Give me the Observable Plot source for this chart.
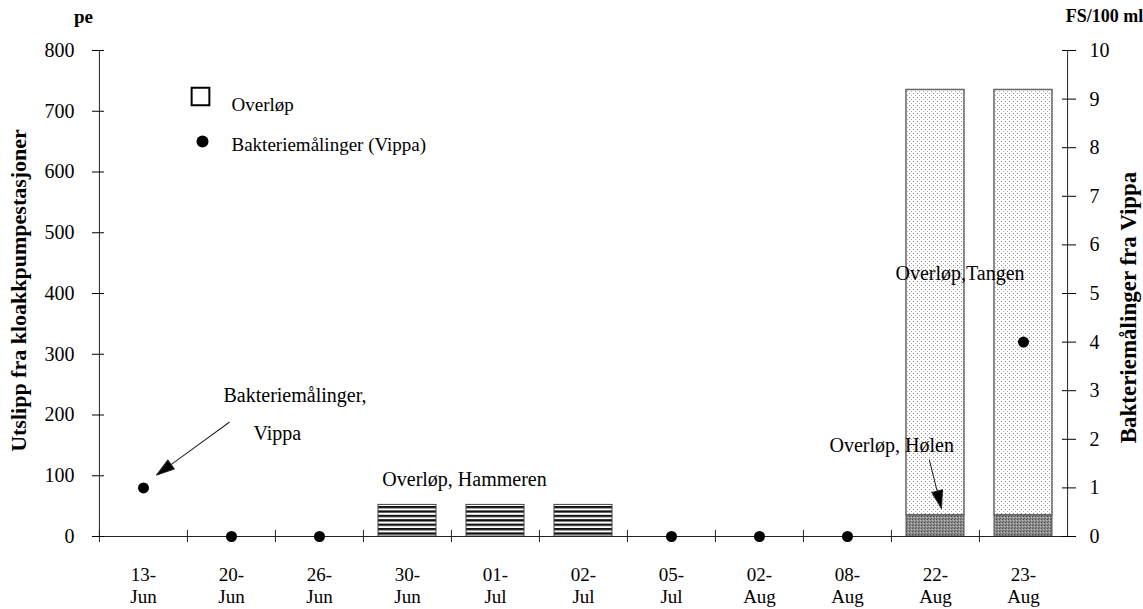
<!DOCTYPE html>
<html><head><meta charset="utf-8">
<script src="https://cdn.jsdelivr.net/npm/d3@7"></script>
<script src="https://cdn.jsdelivr.net/npm/@observablehq/plot@0.6"></script>
<style>body{margin:0;background:#fff}</style>
</head><body><div id="chart"></div>
<script>
// ---- data ----
const categories = ["13-\nJun","20-\nJun","26-\nJun","30-\nJun","01-\nJul","02-\nJul","05-\nJul","02-\nAug","08-\nAug","22-\nAug","23-\nAug"];
const hammeren = [0,0,0,52,52,52,0,0,0,0,0];        // pe
const holen    = [0,0,0,0,0,0,0,0,0,35,35];         // pe
const tangen   = [0,0,0,0,0,0,0,0,0,700,700];       // pe (on top of Hølen)
const bacteria = [1,0,0,null,null,null,0,0,0,null,4]; // FS/100 ml
const leftTicks = [0,100,200,300,400,500,600,700,800];
const rightTicks = [0,1,2,3,4,5,6,7,8,9,10];
const fsToPe = 80; // 10 FS/100 ml <-> 800 pe

const W = 1143, H = 609, mL = 98, mR = 75, mT = 50, mB = 73;
const bw = (W - mL - mR) / categories.length;

const hamRows = categories.map((c,i)=>({cat:c, v:hammeren[i]})).filter(d=>d.v>0);
const augRows = categories.map((c,i)=>({cat:c, holen:holen[i], tangen:tangen[i]})).filter(d=>d.holen+d.tangen>0);
const bacRows = categories.map((c,i)=>({cat:c, fs:bacteria[i]})).filter(d=>d.fs!=null);

const arrowShape = {draw(ctx, l) {
  const h = 18, w = 5.5;
  ctx.moveTo(0, 0); ctx.lineTo(0, -l + h);
  ctx.moveTo(-w, h - l); ctx.lineTo(0, -l); ctx.lineTo(w, h - l); ctx.closePath();
}};

const serif = '"Liberation Serif", "Times New Roman", serif';

const plot = Plot.plot({
  width: W, height: H,
  marginLeft: mL, marginRight: mR, marginTop: mT, marginBottom: mB,
  style: {fontFamily: serif, fontSize: "19px", color: "black", background: "white", overflow: "visible"},
  x: {domain: categories, padding: 0, axis: null},
  y: {domain: [0, 800], axis: null},
  marks: [
    Plot.barY(hamRows, {x: "cat", y: "v", insetLeft: 15, insetRight: 15, fill: "url(#hStripes)", stroke: "#444", strokeWidth: 1}),
    Plot.barY(augRows, {x: "cat", y1: 0, y2: "holen", insetLeft: 15, insetRight: 15, fill: "url(#dotsDark)", stroke: "#555", strokeWidth: 1}),
    Plot.barY(augRows, {x: "cat", y1: "holen", y2: d => d.holen + d.tangen, insetLeft: 15, insetRight: 15, fill: "url(#dotsLight)", stroke: "#666", strokeWidth: 1.5}),
    // axis lines
    Plot.ruleY([0], {stroke: "#222"}),
    Plot.ruleX([categories[0]], {y1: 0, y2: 800, dx: -bw / 2, stroke: "#222"}),
    Plot.ruleX([categories[categories.length - 1]], {y1: 0, y2: 800, dx: bw / 2, stroke: "#222"}),
    // category boundary ticks
    Plot.ruleX(categories, {x: d => d, y1: -10, y2: 10, dx: -bw / 2, stroke: "#222"}),
    Plot.axisX({tickSize: 0, tickPadding: 28, lineHeight: 1.2, label: null, fontSize: 19}),
    Plot.axisY(leftTicks, {anchor: "left", tickSize: 12, dx: 6, tickPadding: 18, label: null, fontSize: 20}),
    Plot.axisY(rightTicks.map(v => v * fsToPe), {anchor: "right", tickSize: 14, dx: -7, tickPadding: 14, tickFormat: d => d / fsToPe, label: null, fontSize: 20}),
    // bacteria measurements
    Plot.dot(bacRows, {x: "cat", y: d => d.fs * fsToPe, r: 5.5, fill: "black"}),
    // annotations
    Plot.text(["Overløp, Hammeren"], {x: () => categories[4], y: () => 94, dx: -31, text: d => d, fontSize: 20}),
    Plot.text(["Bakteriemålinger,"], {x: () => categories[1], y: () => 232, dx: -8, text: d => d, textAnchor: "start", fontSize: 20}),
    Plot.text(["Vippa"], {x: () => categories[1], y: () => 169, dx: 22, text: d => d, textAnchor: "start", fontSize: 20}),
    Plot.text(["Overløp,Tangen"], {x: () => categories[9], y: () => 433, dx: -40, text: d => d, textAnchor: "start", fontSize: 20}),
    Plot.text(["Overløp, Hølen"], {x: () => categories[9], y: () => 150, dx: -106, text: d => d, textAnchor: "start", fontSize: 20}),
    Plot.vector([0], {x: () => categories[0], y: () => 101, dx: 13, length: 90, rotate: 234, anchor: "end", shape: arrowShape, stroke: "#222", fill: "black", strokeWidth: 1}),
    Plot.vector([0], {x: () => categories[9], y: () => 46, dx: 6, length: 50, rotate: 166, anchor: "end", shape: arrowShape, stroke: "#222", fill: "black", strokeWidth: 1}),
    // legend
    Plot.dot([0], {frameAnchor: "top-left", dx: 102, dy: 46, symbol: "square", r: 10, stroke: "black", strokeWidth: 2, fill: "white"}),
    Plot.text(["Overløp"], {frameAnchor: "top-left", dx: 133, dy: 54, text: d => d, textAnchor: "start", lineAnchor: "middle", fontSize: 19}),
    Plot.dot([0], {frameAnchor: "top-left", dx: 104, dy: 91, r: 6, fill: "black"}),
    Plot.text(["Bakteriemålinger (Vippa)"], {frameAnchor: "top-left", dx: 133, dy: 94, text: d => d, textAnchor: "start", lineAnchor: "middle", fontSize: 19}),
    // axis titles
    Plot.text(["pe"], {frameAnchor: "top-left", dx: -15, dy: -34, text: d => d, textAnchor: "middle", lineAnchor: "middle", fontWeight: "bold", fontSize: 19}),
    Plot.text(["FS/100 ml"], {frameAnchor: "top-right", dx: 36, dy: -34, text: d => d, textAnchor: "middle", lineAnchor: "middle", fontWeight: "bold", fontSize: 18}),
    Plot.text(["Utslipp fra kloakkpumpestasjoner"], {frameAnchor: "left", dx: -80, dy: -3, rotate: -90, text: d => d, textAnchor: "middle", lineAnchor: "middle", fontWeight: "bold", fontSize: 22}),
    Plot.text(["Bakteriemålinger fra Vippa"], {frameAnchor: "right", dx: 60, dy: 14, rotate: -90, text: d => d, textAnchor: "middle", lineAnchor: "middle", fontWeight: "bold", fontSize: 23})
  ]
});

d3.select(plot).insert("defs", ":first-child").html(`
  <pattern id="hStripes" width="6" height="4.4" patternUnits="userSpaceOnUse">
    <rect width="6" height="4.4" fill="white"/><rect width="6" height="2.3" fill="#111"/>
  </pattern>
  <pattern id="dotsLight" width="4" height="4" patternUnits="userSpaceOnUse">
    <rect width="4" height="4" fill="white"/><rect x="1" y="1" width="1" height="1" fill="#8a8a8a"/><rect x="3" y="3" width="1" height="1" fill="#b0b0b0"/>
  </pattern>
  <pattern id="dotsDark" width="3" height="3" patternUnits="userSpaceOnUse">
    <rect width="3" height="3" fill="#8e8e8e"/><rect x="0" y="0" width="1" height="1" fill="#4a4a4a"/><rect x="2" y="1" width="1" height="1" fill="#c0c0c0"/><rect x="1" y="2" width="1" height="1" fill="#666"/>
  </pattern>`);

document.getElementById("chart").append(plot);
</script>
</body></html>
